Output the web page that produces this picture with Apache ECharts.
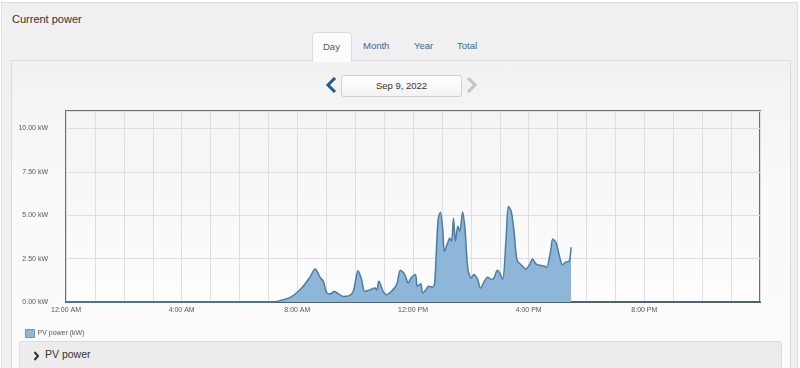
<!DOCTYPE html>
<html>
<head>
<meta charset="utf-8">
<script src="https://cdn.jsdelivr.net/npm/echarts@6/dist/echarts.min.js"></script>
<style>
  html, body { margin:0; padding:0; width:800px; height:368px; overflow:hidden; background:#ffffff; font-family:"Liberation Sans", Arial, sans-serif; }
  #outer { position:absolute; left:1px; top:2px; width:795px; height:380px; background:#f0f0f0; border:1px solid #dedede; }
  #title { position:absolute; left:12px; top:13px; font-size:11px; color:#333; }
  #inner { position:absolute; left:11px; top:60px; width:778px; height:320px; background:linear-gradient(#f1f1f1, #fafafa 40%, #fbfbfb); border:1px solid #dcdcdc; }
  .tab { position:absolute; top:40px; font-size:9.5px; color:#35699a; }
  #daytab { position:absolute; left:312px; top:32px; width:38px; height:29px; background:#fcfcfc; border:1px solid #dcdcdc; border-bottom:none; border-radius:4px 4px 0 0; z-index:2; }
  #daytab span { position:absolute; left:10px; top:8px; font-size:9.5px; color:#555; }
  #datebox { position:absolute; left:341px; top:75px; width:119px; height:20px; background:linear-gradient(#ffffff, #f3f3f3); border:1px solid #cfcfcf; border-radius:3px; font-size:9.5px; color:#333; text-align:center; line-height:20px; }
  #bar { position:absolute; left:19px; top:341px; width:761px; height:30px; background:#ececec; border:1px solid #dddddd; border-radius:3px; }
  #bar span { position:absolute; left:25px; top:6px; font-size:10.5px; color:#333; }
  #chart { position:absolute; left:0; top:0; width:800px; height:368px; }
</style>
</head>
<body>
<div id="outer"></div>
<div id="title">Current power</div>
<div id="inner"></div>
<div id="daytab"><span>Day</span></div>
<div class="tab" style="left:363px">Month</div>
<div class="tab" style="left:414px">Year</div>
<div class="tab" style="left:457px">Total</div>
<svg style="position:absolute;left:325px;top:77px" width="12" height="16"><polyline points="10,1 3,8 10,15" fill="none" stroke="#1e5d94" stroke-width="3"/></svg>
<div id="datebox">Sep 9, 2022</div>
<svg style="position:absolute;left:466px;top:77px" width="12" height="16"><polyline points="2,1 9,8 2,15" fill="none" stroke="#c4c4c4" stroke-width="3"/></svg>
<div id="bar"><svg style="position:absolute;left:13px;top:9px" width="7" height="10"><polyline points="1.5,1 5,5 1.5,9" fill="none" stroke="#333" stroke-width="2"/></svg><span>PV power</span></div>
<div id="chart"></div>
<script>
// Data (time of day, PV power in kW)
const times = ["00:00","07:00","07:20","07:48","08:09","08:26","08:37","08:47","08:54","09:01","09:08","09:17","09:24","09:35","09:46","09:56","10:06","10:13","10:20","10:30","10:41","10:45","10:49","10:58","11:05","11:15","11:26","11:34","11:43","11:50","11:56","12:05","12:09","12:16","12:20","12:27","12:32","12:41","12:45","12:52","12:57","13:02","13:05","13:12","13:16","13:20","13:24","13:28","13:33","13:37","13:43","13:48","13:54","14:01","14:06","14:14","14:20","14:28","14:35","14:43","14:48","14:55","15:00","15:06","15:13","15:18","15:24","15:30","15:36","15:44","15:54","16:02","16:08","16:15","16:26","16:33","16:37","16:46","16:50","16:57","17:04","17:10","17:17","17:24","17:28"];
const pvPower = [0,0,0.05,0.31,0.8,1.43,1.9,1.43,1.19,0.52,0.46,0.61,0.5,0.32,0.35,0.61,1.8,1.32,0.61,0.7,0.8,0.7,1.19,0.61,0.42,0.61,1.0,1.83,1.58,1.1,1.38,1.58,0.9,1.05,0.52,0.7,0.9,0.87,1.1,4.74,5.17,4.07,2.92,3.4,3.69,3.5,4.83,3.5,4.36,4.07,5.19,4.17,1.86,1.38,1.58,1.3,0.8,1.19,1.43,1.3,1.38,1.83,1.67,1.3,3.6,5.5,5.2,3.97,2.39,2.15,1.9,2.15,2.48,2.2,2.1,2.06,1.98,3.0,3.63,3.4,2.63,2.15,2.3,2.35,3.15];
const xTickHours = [0,4,8,12,16,20];
const xTickLabels = ["12:00 AM","4:00 AM","8:00 AM","12:00 PM","4:00 PM","8:00 PM"];
const seriesName = "PV power (kW)";

function toHours(t){ const p=t.split(":"); return (+p[0]) + (+p[1])/60; }
const seriesData = times.map((t,i)=>[toHours(t), pvPower[i]]);

const chart = echarts.init(document.getElementById('chart'), null, {renderer:'canvas'});
chart.setOption({
  backgroundColor:'transparent',
  animation:false,
  grid:{ left:66, right:40, top:111, bottom:66, show:true, borderColor:'#6e6e6e', borderWidth:2,
    backgroundColor:{type:'linear',x:0,y:0,x2:0,y2:1,colorStops:[{offset:0,color:'#f4f4f4'},{offset:1,color:'#fdfdfd'}]} },
  legend:{ left:20, top:324, itemWidth:9, itemHeight:8, icon:'rect', itemGap:4,
    textStyle:{ fontSize:7, color:'#555', fontFamily:'Liberation Sans', padding:[0,0,0,-2] },
    itemStyle:{ borderColor:'#6f96b8', borderWidth:1 },
    data:[seriesName] },
  xAxis:{ type:'value', min:0, max:24, interval:1,
    axisLine:{ show:true, lineStyle:{ color:'#4f6272', width:2 } },
    axisTick:{ show:false },
    splitLine:{ show:true, lineStyle:{ color:'#dedede', width:1 } },
    axisLabel:{ fontSize:7, color:'#555', fontFamily:'Liberation Sans', margin:5, showMaxLabel:false,
      formatter:function(v){ const k = xTickHours.indexOf(v); return k>=0 ? xTickLabels[k] : ''; } } },
  yAxis:{ type:'value', min:0, max:11, interval:2.5,
    axisLine:{ show:false }, axisTick:{ show:false },
    splitLine:{ show:true, lineStyle:{ color:'#dedede', width:1 } },
    axisLabel:{ fontSize:7, color:'#555', fontFamily:'Liberation Sans', margin:18, showMaxLabel:false,
      formatter:function(v){ return v.toFixed(2) + ' kW'; } } },
  series:[{ name:seriesName, type:'line', data:seriesData, smooth:0.3, symbol:'none',
    color:'#8db6d8',
    lineStyle:{ color:'#4c7ca3', width:1.5 },
    areaStyle:{ color:'#8db6d8', opacity:1 } }]
});
</script>
</body>
</html>
